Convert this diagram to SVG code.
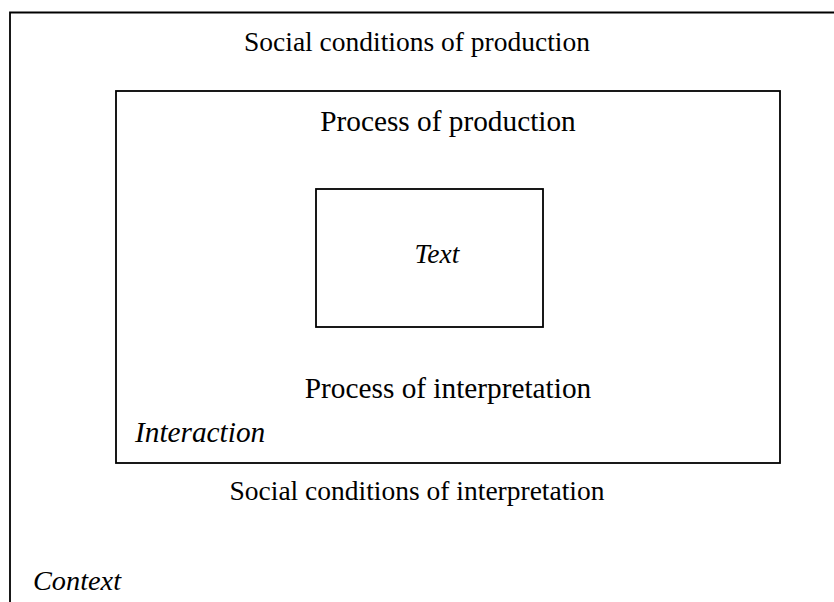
<svg xmlns="http://www.w3.org/2000/svg" width="834" height="602" viewBox="0 0 834 602">
<style>
.box{fill:none;stroke:#000;stroke-width:1.8}
.t{font-family:"Liberation Serif","Times New Roman",serif;font-size:27.5px;fill:#000}
.m{font-size:29.3px}
.c{text-anchor:middle}
.i{font-style:italic}
</style>
<rect width="834" height="602" fill="#fff"/>
<g id="context">
<path class="box" d="M10,620 V12.5 H834"/>
<text class="t c" x="417" y="51">Social conditions of production</text>
<text class="t c" x="417" y="500">Social conditions of interpretation</text>
<text class="t i" x="33" y="590" style="font-size:28.3px">Context</text>
</g>
<g id="interaction">
<rect class="box" x="116" y="91" width="664" height="372"/>
<text class="t m c" x="448" y="131">Process of production</text>
<text class="t m c" x="448" y="398">Process of interpretation</text>
<text class="t m i" x="135" y="442">Interaction</text>
</g>
<g id="text">
<rect class="box" x="316" y="189" width="227" height="138"/>
<text class="t c i" x="437" y="263" style="font-size:27.5px">Text</text>
</g>
<g id="connectors"/>
</svg>
